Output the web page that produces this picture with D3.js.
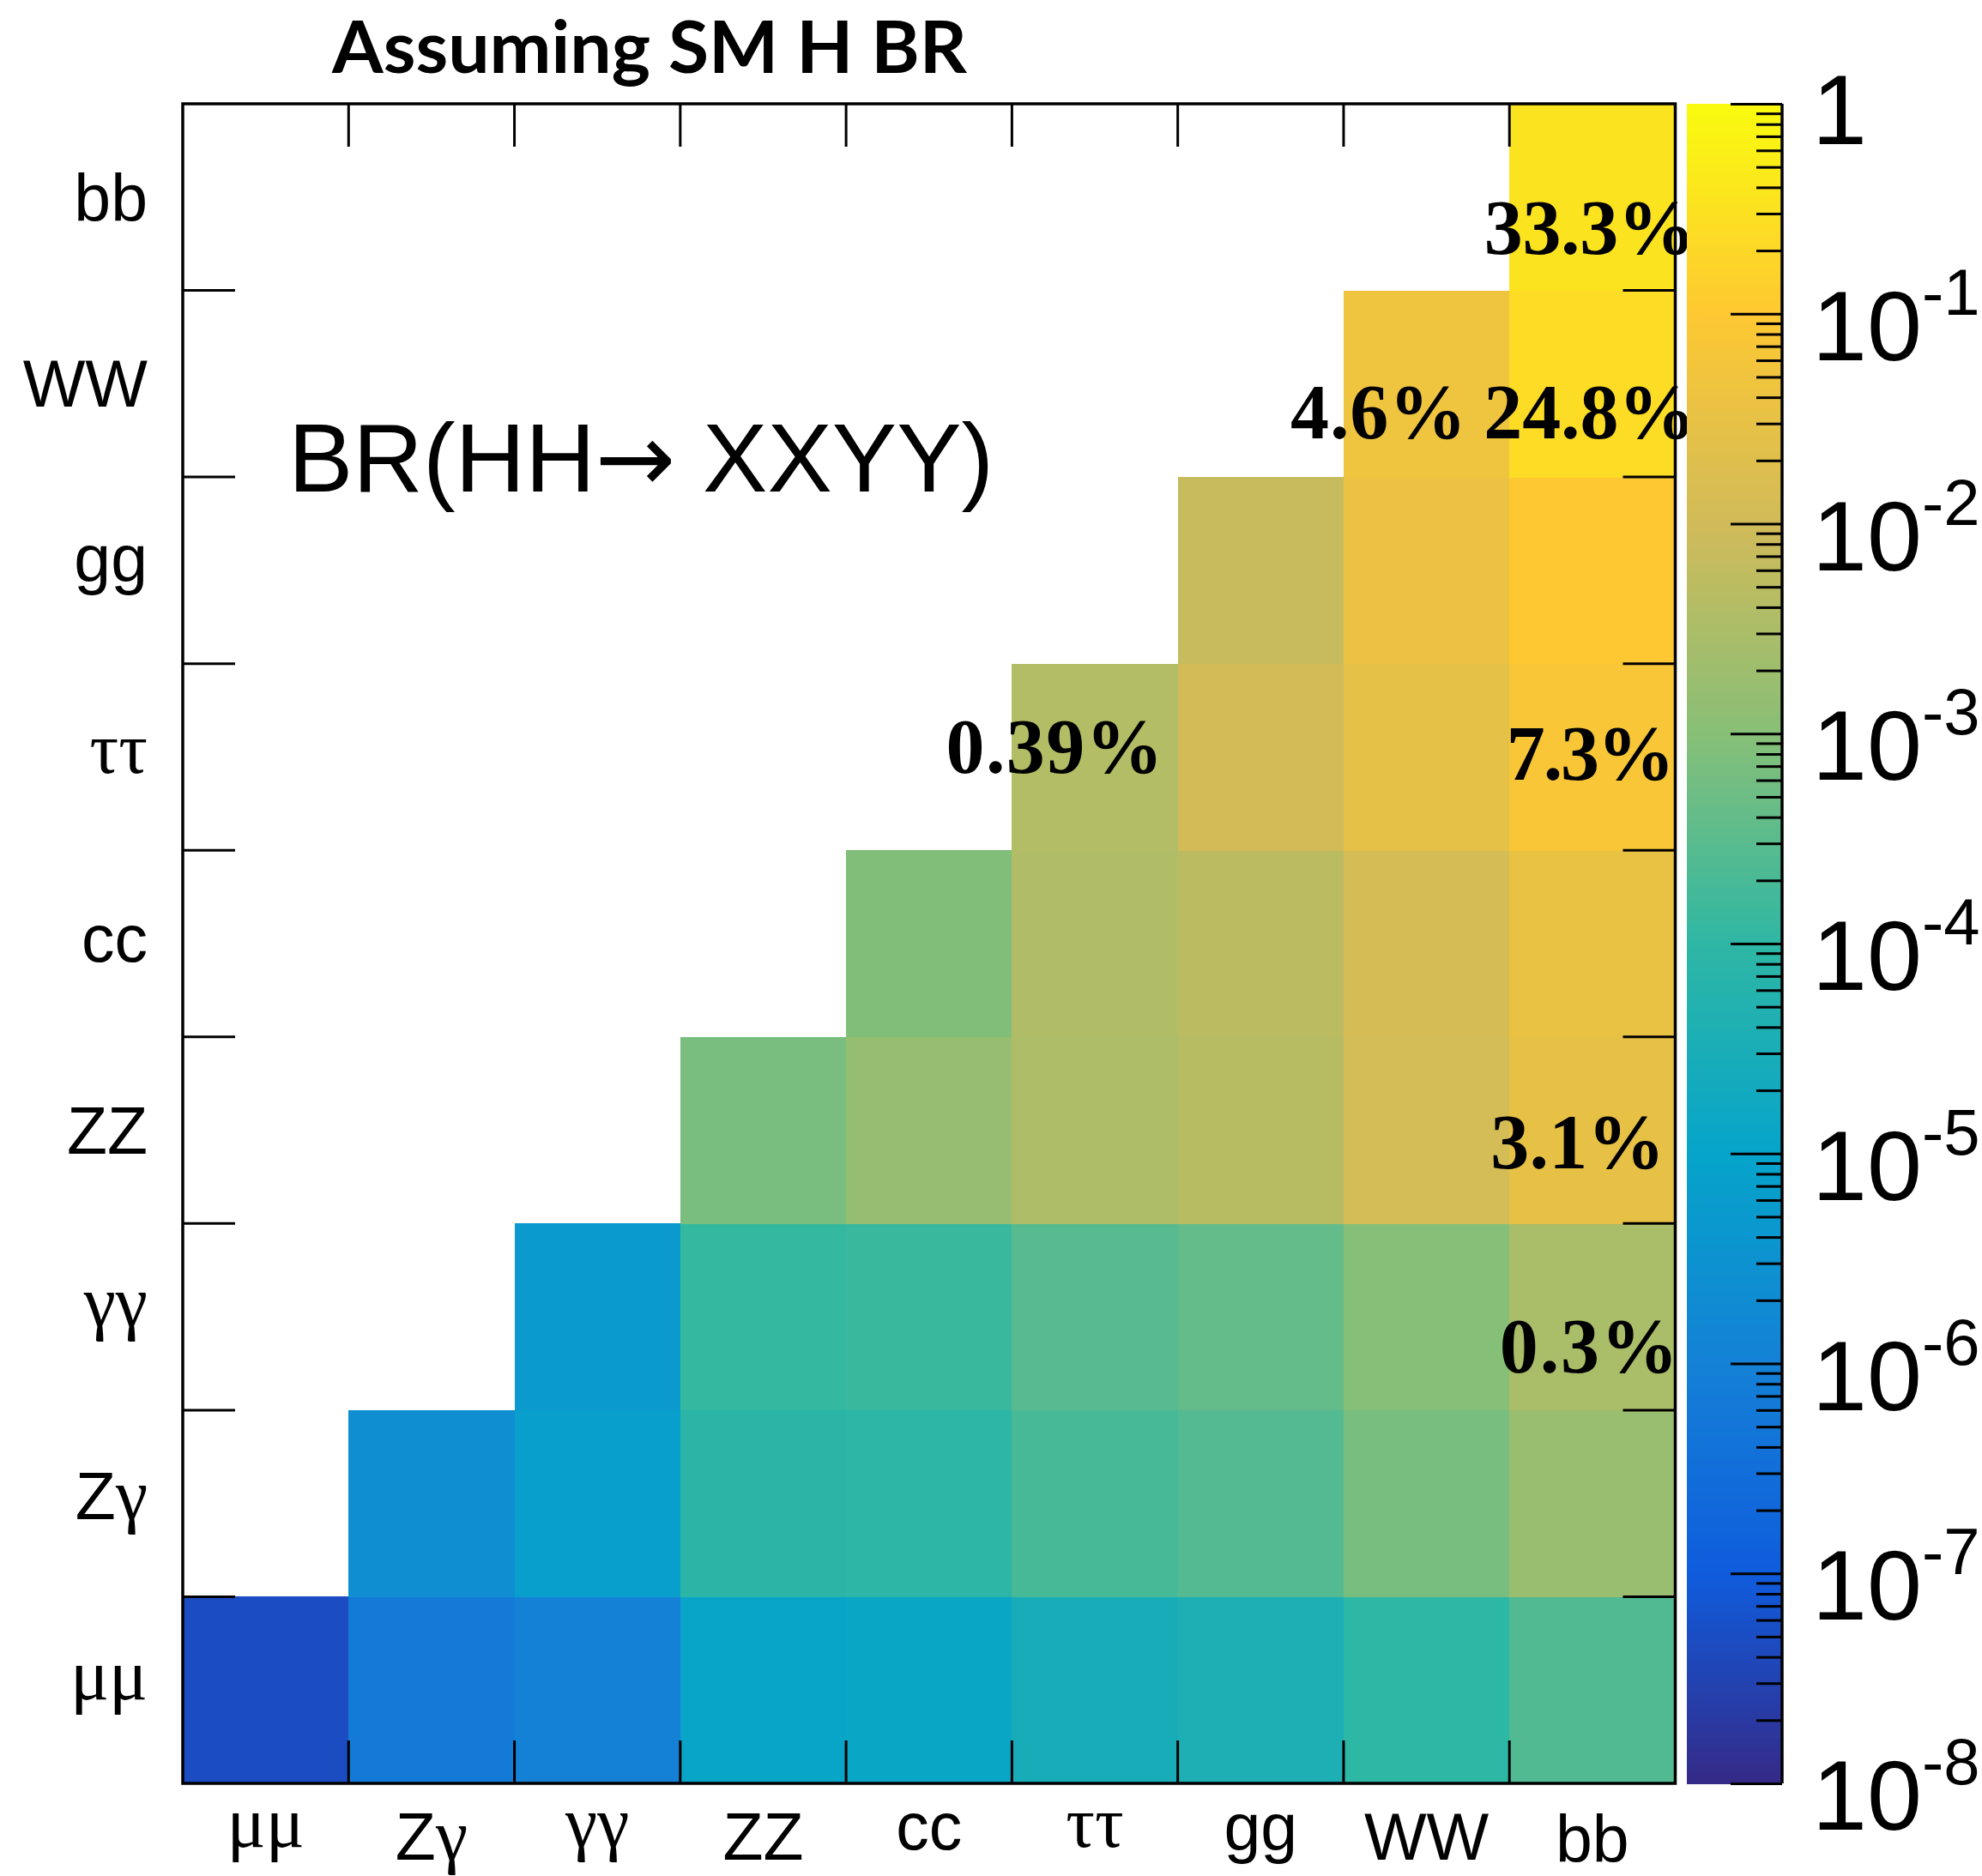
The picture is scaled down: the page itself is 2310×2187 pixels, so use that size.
<!DOCTYPE html>
<html>
<head>
<meta charset="utf-8">
<script src="https://cdn.jsdelivr.net/npm/d3@7"></script>
<style>
  html, body { margin: 0; padding: 0; background: #ffffff; }
  svg { display: block; }
</style>
</head>
<body>
<svg id="chart" width="2310" height="2187"></svg>
<script>
// ---- data ---------------------------------------------------------------
// Higgs decay channels, used for both axes (x: left→right, y: bottom→top)
const channels = ["μμ", "Zγ", "γγ", "ZZ", "cc", "ττ", "gg", "WW", "bb"];

// BR(HH → XXYY) for each row channel Y, listed for X = Y, ..., bb
const rowMuMu    = [4.80e-8, 6.75e-7, 1.00e-6, 1.16e-5, 1.28e-5, 2.77e-5, 3.75e-5, 9.42e-5, 2.53e-4];
const rowZGamma  = [2.37e-6, 7.02e-6, 8.13e-5, 8.96e-5, 1.95e-4, 2.64e-4, 6.62e-4, 1.78e-3];
const rowGamGam  = [5.20e-6, 1.20e-4, 1.33e-4, 2.88e-4, 3.91e-4, 9.80e-4, 0.003];
const rowZZ      = [6.97e-4, 1.54e-3, 3.34e-3, 4.52e-3, 1.14e-2, 0.031];
const rowCC      = [8.47e-4, 3.68e-3, 4.99e-3, 1.25e-2, 3.36e-2];
const rowTauTau  = [0.0039, 1.08e-2, 2.72e-2, 0.073];
const rowGG      = [7.34e-3, 3.69e-2, 9.89e-2];
const rowWW      = [0.046, 0.248];
const rowBB      = [0.333];
const rowsByChannel = [rowMuMu, rowZGamma, rowGamGam, rowZZ, rowCC, rowTauTau, rowGG, rowWW, rowBB];

// colour-bar decades (exponents of 10)
const colorbarExponents = [0, -1, -2, -3, -4, -5, -6, -7, -8];

// cells quoted in percent: [row channel, column channel, decimals]
const quotedCells = [
  ["bb", "bb", 1], ["WW", "bb", 1], ["WW", "WW", 1], ["ττ", "bb", 1],
  ["ττ", "ττ", 2], ["ZZ", "bb", 1], ["γγ", "bb", 1]
];

const titleText = "Assuming SM H BR";
const headline = "BR(HH→ XXYY)";

// ---- layout ---------------------------------------------------------------
const frame = { left: 213, right: 1952.5, top: 121, bottom: 2079 };
const bar = { left: 1966, right: 2077 };
const SANS = '"Liberation Sans", Arial, Helvetica, sans-serif';
const SERIF = '"Liberation Serif", "Times New Roman", serif';
const labelSize = 77;
const greekSize = 84;
// placement of the percent texts: centre shift, baseline shift from cell centre, text width (px)
const quotedOffsets = [[-3, 66, 246], [-3, 64, 247], [-56, 64, 205], [-2, 27, 196], [-47, 19, 253], [-17, 44, 203], [-4, 65, 208]];

// ROOT "kBird" palette
const birdStops = [0, 0.125, 0.25, 0.375, 0.5, 0.625, 0.75, 0.875, 1];
const birdRed   = [0.2082, 0.0592, 0.0780, 0.0232, 0.1802, 0.5301, 0.8186, 0.9956, 0.9764];
const birdGreen = [0.1664, 0.3599, 0.5041, 0.6419, 0.7178, 0.7492, 0.7328, 0.7862, 0.9832];
const birdBlue  = [0.5293, 0.8684, 0.8385, 0.7914, 0.6425, 0.4662, 0.3499, 0.1968, 0.0539];

const svg = d3.select("#chart");

const x = d3.scaleBand().domain(channels).range([frame.left, frame.right]).padding(0);
const y = d3.scaleBand().domain(channels).range([frame.bottom, frame.top]).padding(0);
const z = d3.scaleLog().domain([1e-8, 1]).range([0, 1]).clamp(true);
const zBar = d3.scaleLog().domain([1e-8, 1]).range([frame.bottom, frame.top]);

const bird = d3.scaleLinear()
  .domain(birdStops)
  .range(birdStops.map((_, i) => d3.rgb(birdRed[i] * 255, birdGreen[i] * 255, birdBlue[i] * 255).toString()))
  .interpolate(d3.interpolateRgb);
const colorOf = v => bird(z(v));

// ---- cells ---------------------------------------------------------------
const cells = [];
rowsByChannel.forEach((vals, r) => {
  vals.forEach((v, k) => cells.push({ row: channels[r], col: channels[r + k], value: v }));
});

svg.append("g").selectAll("rect").data(cells).join("rect")
  .attr("x", d => x(d.col))
  .attr("y", d => y(d.row))
  .attr("width", x.bandwidth() + 0.5)
  .attr("height", y.bandwidth() + 0.5)
  .attr("fill", d => colorOf(d.value))
  .attr("shape-rendering", "crispEdges");

// ---- frame and ticks ----------------------------------------------------------
const axisG = svg.append("g").attr("stroke", "#000");
const bounds = channels.slice(1);
// x ticks at bin edges, bottom and top
axisG.selectAll("line.xb").data(bounds).join("line")
  .attr("x1", d => x(d)).attr("x2", d => x(d))
  .attr("y1", frame.bottom).attr("y2", frame.bottom - 50)
  .attr("stroke-width", 3);
axisG.selectAll("line.xt").data(bounds).join("line")
  .attr("x1", d => x(d)).attr("x2", d => x(d))
  .attr("y1", frame.top).attr("y2", frame.top + 50)
  .attr("stroke-width", 3);
// y ticks at bin edges, left and right
axisG.selectAll("line.yl").data(bounds).join("line")
  .attr("x1", frame.left).attr("x2", frame.left + 61)
  .attr("y1", d => y(d) + y.bandwidth()).attr("y2", d => y(d) + y.bandwidth())
  .attr("stroke-width", 3);
axisG.selectAll("line.yr").data(bounds).join("line")
  .attr("x1", frame.right).attr("x2", frame.right - 61)
  .attr("y1", d => y(d) + y.bandwidth()).attr("y2", d => y(d) + y.bandwidth())
  .attr("stroke-width", 3);
axisG.append("rect")
  .attr("x", frame.left).attr("y", frame.top)
  .attr("width", frame.right - frame.left).attr("height", frame.bottom - frame.top)
  .attr("fill", "none").attr("stroke-width", 3.5);

// ---- axis labels (Greek letters in a serif face, Latin in sans) -------------------
const ctx = document.createElement("canvas").getContext("2d");
const isGreek = ch => /[\u0370-\u03ff]/.test(ch);
function splitRuns(label) {
  const runs = [];
  for (const ch of label) {
    const g = isGreek(ch);
    if (runs.length && runs[runs.length - 1].greek === g) runs[runs.length - 1].t += ch;
    else runs.push({ t: ch, greek: g });
  }
  return runs;
}
function inkOf(label) {
  let top = -1e9, desc = -1e9;
  splitRuns(label).forEach(r => {
    ctx.font = r.greek ? `${greekSize}px ${SERIF}` : `${labelSize}px ${SANS}`;
    const m = ctx.measureText(r.t);
    top = Math.max(top, m.actualBoundingBoxAscent);
    desc = Math.max(desc, m.actualBoundingBoxDescent);
  });
  return { asc: top, desc: desc };
}
function writeLabel(sel, label) {
  sel.selectAll("tspan").data(splitRuns(label)).join("tspan")
    .attr("font-family", r => r.greek ? SERIF : SANS)
    .attr("font-size", r => r.greek ? greekSize : labelSize)
    .text(r => r.t);
}

const xLabels = svg.append("g").attr("text-anchor", "middle");
channels.forEach(c => {
  const ink = inkOf(c);
  const t = xLabels.append("text")
    .attr("x", x(c) + x.bandwidth() / 2)
    .attr("y", 2114 + ink.asc);
  writeLabel(t, c);
});

const yLabels = svg.append("g").attr("text-anchor", "end");
channels.forEach(c => {
  const ink = inkOf(c);
  const mid = y(c) + y.bandwidth() / 2;
  const t = yLabels.append("text")
    .attr("x", 172)
    .attr("y", mid + (ink.asc - ink.desc) / 2);
  writeLabel(t, c);
});

// ---- percent texts --------------------------------------------------------------
const pctG = svg.append("g")
  .attr("font-family", SERIF).attr("font-weight", "bold")
  .attr("font-size", 90).attr("text-anchor", "middle").attr("fill", "#000");
quotedCells.forEach(([rowCh, colCh, dec], i) => {
  const r = channels.indexOf(rowCh);
  const v = rowsByChannel[r][channels.indexOf(colCh) - r];
  const [dx, dy, w] = quotedOffsets[i];
  pctG.append("text")
    .attr("x", x(colCh) + x.bandwidth() / 2 + dx)
    .attr("y", y(rowCh) + y.bandwidth() / 2 + dy)
    .attr("textLength", w)
    .text((v * 100).toFixed(dec) + "%");
});

// ---- titles ----------------------------------------------------------------------
svg.append("text")
  .attr("x", 387).attr("y", 85)
  .attr("font-family", 'Lato, "Open Sans", sans-serif')
  .attr("font-weight", 700)
  .attr("font-size", 84)
  .attr("textLength", 740).attr("lengthAdjust", "spacingAndGlyphs")
  .text(titleText);

const head = svg.append("text")
  .attr("x", 336).attr("y", 573)
  .attr("font-family", SANS)
  .attr("font-size", 113);
const arrowAt = headline.indexOf("→");
head.append("tspan").text(headline.slice(0, arrowAt));
head.append("tspan").attr("font-family", '"DejaVu Sans", sans-serif').attr("font-size", 112).text("→");
head.append("tspan").text(headline.slice(arrowAt + 1));

// ---- colour bar ------------------------------------------------------------------
const nBands = 255;
const bandEdges = d3.range(nBands + 1).map(i => Math.pow(10, -8 + 8 * i / nBands));
const barG = svg.append("g");
barG.selectAll("rect").data(d3.range(nBands)).join("rect")
  .attr("x", bar.left)
  .attr("width", bar.right - bar.left)
  .attr("y", i => zBar(bandEdges[i + 1]))
  .attr("height", i => zBar(bandEdges[i]) - zBar(bandEdges[i + 1]) + 0.6)
  .attr("fill", i => colorOf(Math.sqrt(bandEdges[i] * bandEdges[i + 1])))
  .attr("shape-rendering", "crispEdges");

const minorTicks = zBar.ticks().filter(t => Math.abs(Math.log10(t) - Math.round(Math.log10(t))) > 1e-6);
barG.append("g").attr("transform", `translate(${bar.right},0)`)
  .call(d3.axisLeft(zBar).tickValues(minorTicks).tickSize(30).tickFormat(""))
  .call(g => g.select(".domain").remove())
  .call(g => g.selectAll("line").attr("stroke-width", 3));
barG.append("g").attr("transform", `translate(${bar.right},0)`)
  .call(d3.axisLeft(zBar).tickValues(colorbarExponents.map(e => Math.pow(10, e))).tickSize(60).tickFormat(""))
  .call(g => g.select(".domain").remove())
  .call(g => g.selectAll("line").attr("stroke-width", 3));
barG.append("line")
  .attr("x1", bar.right).attr("x2", bar.right)
  .attr("y1", frame.top).attr("y2", frame.bottom)
  .attr("stroke", "#000").attr("stroke-width", 3.5);

const barLabels = svg.append("g").attr("font-family", SANS).attr("font-size", 115);
colorbarExponents.forEach(e => {
  const yy = zBar(Math.pow(10, e));
  if (e === 0) {
    barLabels.append("text").attr("x", 2112).attr("y", yy + 47).text("1");
  } else {
    const t = barLabels.append("text").attr("x", 2112).attr("y", yy + 54);
    t.append("tspan").text("10");
    t.append("tspan").attr("font-size", 76).attr("dy", -53).text("-" + (-e));
  }
});
</script>
</body>
</html>
